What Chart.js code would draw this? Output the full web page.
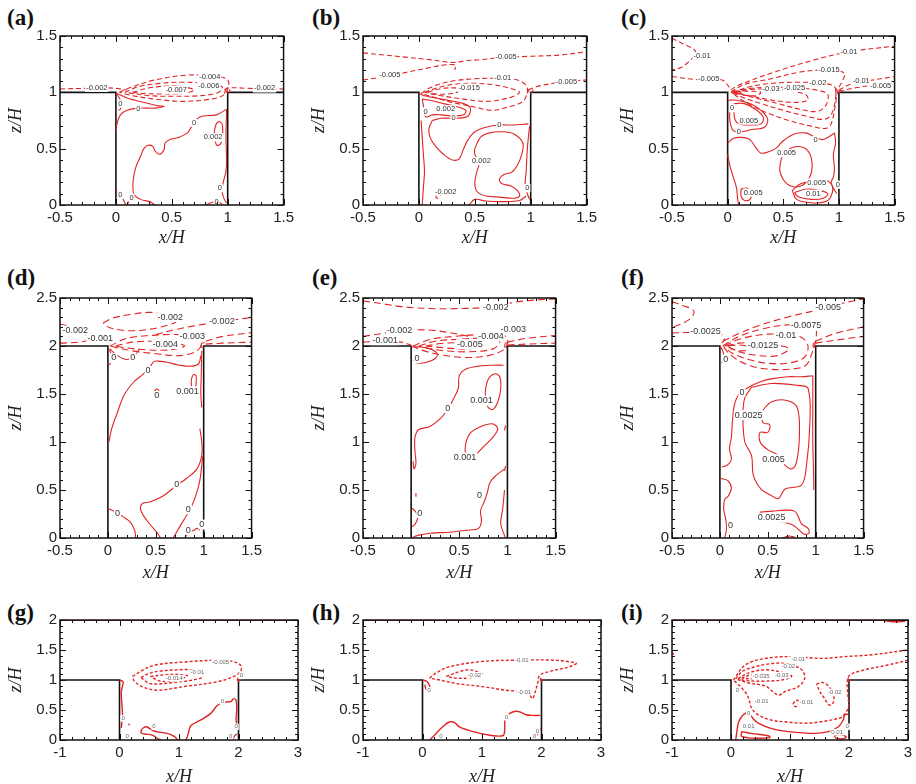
<!DOCTYPE html>
<html lang="en">
<head>
<meta charset="UTF-8">
<script src="https://cdn.jsdelivr.net/npm/chart.js@4.4.1/dist/chart.umd.min.js"></script>
<title>Contours</title>
<style>
  html, body { margin: 0; padding: 0; background: #fff; overflow: hidden; }
  body { width: 916px; height: 784px; position: relative; }
  canvas { position: absolute; }
  .tag { position: absolute; font: bold 23px "Liberation Serif", "Times New Roman", serif; color: #111; line-height: 1; }
</style>
</head>
<body>
<div class="tag" style="left:7px;top:6px">(a)</div>
<div class="tag" style="left:312px;top:6px">(b)</div>
<div class="tag" style="left:621px;top:6px">(c)</div>
<div class="tag" style="left:7px;top:266px">(d)</div>
<div class="tag" style="left:312px;top:266px">(e)</div>
<div class="tag" style="left:621px;top:266px">(f)</div>
<div class="tag" style="left:7px;top:601px">(g)</div>
<div class="tag" style="left:312px;top:601px">(h)</div>
<div class="tag" style="left:621px;top:601px">(i)</div>
<script>
// cavity outlines
const wallsShort = [[[-0.5,1],[0,1],[0,0]], [[1,0],[1,1],[1.5,1]]];
const wallsTall  = [[[-0.5,2],[0,2],[0,0]], [[1,0],[1,2],[1.5,2]]];
const wallsWide  = [[[-1,1],[0,1],[0,0]], [[2,0],[2,1],[3,1]]];

// contours: [level, [[x,z], ...]]
const contA = [
  [-0.002, [[-0.5,1.03],[-0.3,1.035],[-0.1,1.04],[0.0,1.035],[0.1,1.02]]],
  [-0.002, [[0.97,1.02],[1.0,1.04],[1.2,1.035],[1.5,1.03]]],
  [-0.004, [[0.03,1.0],[0.15,1.05],[0.35,1.11],[0.6,1.15],[0.85,1.15],[0.99,1.12],[1.01,1.07],[0.97,0.98],[0.85,0.94],[0.6,0.92],[0.35,0.94],[0.15,0.97],[0.03,1.0]]],
  [-0.006, [[0.08,1.0],[0.2,1.05],[0.4,1.08],[0.6,1.09],[0.8,1.08],[0.95,1.05],[0.92,1.0],[0.75,0.97],[0.5,0.965],[0.3,0.97],[0.15,0.99],[0.08,1.0]]],
  [-0.007, [[0.15,1.0],[0.3,1.04],[0.45,1.055],[0.6,1.05],[0.7,1.02],[0.6,0.99],[0.4,0.985],[0.25,0.99],[0.15,1.0]]],
  [-0.01, [[0.97,0.99],[0.99,1.03],[1.02,1.02],[1.0,0.99],[0.97,0.99]]],
  [0, [[0.005,0.99],[0.03,0.95],[0.05,0.9],[0.04,0.85],[0.02,0.84]]],
  [0, [[0.01,0.99],[0.1,0.95],[0.25,0.91],[0.38,0.88],[0.43,0.875],[0.35,0.86],[0.2,0.86],[0.1,0.84],[0.04,0.8],[0.01,0.72],[0.0,0.65]]],
  [0, [[0.99,0.85],[0.9,0.8],[0.78,0.79],[0.72,0.76],[0.68,0.7],[0.64,0.64],[0.56,0.6],[0.48,0.58],[0.44,0.55],[0.43,0.49],[0.39,0.45],[0.35,0.48],[0.33,0.52],[0.29,0.53],[0.25,0.5],[0.22,0.43],[0.18,0.34],[0.155,0.22],[0.16,0.1],[0.22,0.05],[0.3,0.03],[0.35,0.0]]],
  [0.002, [[0.9,0.53],[0.88,0.6],[0.89,0.7],[0.92,0.74],[0.95,0.72],[0.955,0.62],[0.94,0.55],[0.92,0.53],[0.9,0.53]]],
  [0, [[0.99,0.85],[0.985,0.6],[0.99,0.4],[0.985,0.3],[0.96,0.2],[0.95,0.12],[0.97,0.05],[0.99,0.02]]],
  [0, [[0.8,0.0],[0.85,0.02],[0.9,0.03],[0.95,0.01]]],
  [0, [[0.0,0.13],[0.03,0.1],[0.06,0.06],[0.08,0.02],[0.09,0.0]]],
  [0, [[0.1,0.0],[0.13,0.05],[0.17,0.07]]]
];
const labA = [['-0.002',-0.17,1.04],['-0.004',0.84,1.14],['-0.006',0.83,1.06],['-0.007',0.54,1.02],['-0.002',1.33,1.035],
  ['0',0.04,0.9],['0',0.2,0.85],['0',0.7,0.73],['0.002',0.87,0.6],['0',0.93,0.15],['0',0.9,0.03],['0',0.04,0.09],['0',0.14,0.065]];

const contB = [
  [-0.005, [[-0.5,1.35],[-0.3,1.33],[-0.1,1.31],[0.1,1.29],[0.3,1.265],[0.42,1.28],[0.55,1.29],[0.75,1.31],[1.0,1.32],[1.25,1.33],[1.5,1.36]]],
  [-0.005, [[-0.5,1.11],[-0.3,1.14],[-0.1,1.18],[0.1,1.22],[0.25,1.245],[0.33,1.24],[0.32,1.2]]],
  [-0.005, [[0.98,1.02],[1.05,1.05],[1.2,1.08],[1.35,1.1],[1.5,1.11]]],
  [-0.01, [[0.02,0.99],[0.12,1.05],[0.3,1.1],[0.5,1.12],[0.7,1.125],[0.88,1.11],[0.96,1.06],[0.97,1.0],[0.93,0.92],[0.8,0.87],[0.65,0.84],[0.5,0.87],[0.3,0.91],[0.12,0.96],[0.02,0.99]]],
  [-0.015, [[0.05,1.0],[0.2,1.05],[0.35,1.075],[0.5,1.08],[0.65,1.07],[0.8,1.04],[0.9,1.0],[0.8,0.95],[0.6,0.92],[0.4,0.94],[0.2,0.97],[0.05,1.0]]],
  [-0.02, [[0.08,1.0],[0.18,1.03],[0.3,1.04],[0.4,1.03],[0.3,0.99],[0.15,0.985],[0.08,1.0]]],
  [-0.03, [[0.97,0.99],[0.99,1.03],[1.02,1.02],[1.0,0.99],[0.97,0.99]]],
  [0.002, [[0.03,0.94],[0.1,0.93],[0.22,0.9],[0.35,0.87],[0.42,0.84],[0.4,0.8],[0.3,0.79],[0.2,0.8],[0.12,0.8],[0.07,0.78],[0.05,0.8],[0.04,0.88],[0.03,0.94]]],
  [0, [[0.0,0.99],[0.05,0.97],[0.2,0.94],[0.4,0.9],[0.46,0.86],[0.44,0.79],[0.35,0.77],[0.2,0.77],[0.12,0.75]]],
  [0, [[0.98,0.72],[0.85,0.71],[0.72,0.71],[0.6,0.69],[0.5,0.65],[0.44,0.58],[0.4,0.5],[0.36,0.41],[0.3,0.4],[0.22,0.45],[0.15,0.52],[0.1,0.6],[0.09,0.68],[0.12,0.75]]],
  [0, [[0.02,0.75],[0.03,0.6],[0.04,0.45],[0.05,0.3],[0.04,0.15],[0.03,0.0]]],
  [0.002, [[0.5,0.5],[0.55,0.6],[0.63,0.64],[0.75,0.65],[0.85,0.63],[0.93,0.55],[0.92,0.45],[0.88,0.35],[0.83,0.29],[0.76,0.27],[0.72,0.23],[0.74,0.19],[0.82,0.17],[0.88,0.13],[0.9,0.08],[0.85,0.06],[0.72,0.07],[0.6,0.08],[0.52,0.12],[0.5,0.2],[0.52,0.3],[0.54,0.38],[0.5,0.45],[0.5,0.5]]],
  [0, [[0.45,0.0],[0.5,0.05],[0.6,0.035],[0.75,0.03],[0.9,0.04],[0.96,0.08]]],
  [-0.002, [[0.15,0.07],[0.17,0.11],[0.2,0.12],[0.19,0.08],[0.16,0.06],[0.15,0.07]]],
  [0, [[0.99,0.7],[0.97,0.5],[0.96,0.3],[0.95,0.18],[0.97,0.1],[0.99,0.05]]]
];
const labB = [['-0.005',0.78,1.317],['-0.005',-0.26,1.15],['-0.01',0.75,1.13],['-0.015',0.45,1.04],['-0.005',1.32,1.095],
  ['0',0.06,0.83],['0.002',0.24,0.85],['0',0.31,0.77],['0',0.72,0.71],['0.002',0.56,0.39],['-0.002',0.24,0.12],['0',0.97,0.15]];

const contC = [
  [-0.01, [[-0.5,1.48],[-0.4,1.43],[-0.3,1.38],[-0.29,1.34],[-0.34,1.28],[-0.42,1.22],[-0.5,1.2]]],
  [-0.005, [[-0.5,1.14],[-0.35,1.12],[-0.2,1.11],[-0.05,1.11],[0.02,1.04]]],
  [-0.005, [[1.0,1.01],[1.15,1.04],[1.3,1.06],[1.5,1.07]]],
  [-0.01, [[1.0,1.02],[1.1,1.07],[1.25,1.1],[1.5,1.14]]],
  [-0.01, [[0.03,1.02],[0.09,1.06],[0.39,1.17],[0.75,1.28],[1.09,1.36],[1.5,1.41]]],
  [-0.015, [[0.03,1.0],[0.15,1.07],[0.39,1.12],[0.65,1.18],[0.91,1.2],[1.05,1.17],[1.03,1.1],[0.99,1.02],[0.97,0.9],[0.93,0.72],[0.88,0.68],[0.75,0.7],[0.55,0.75],[0.35,0.82],[0.18,0.9],[0.03,1.0]]],
  [-0.02, [[0.04,1.0],[0.2,1.05],[0.4,1.08],[0.65,1.09],[0.85,1.08],[0.96,1.05],[0.97,0.95],[0.93,0.8],[0.86,0.76],[0.7,0.79],[0.5,0.84],[0.3,0.9],[0.15,0.95],[0.04,1.0]]],
  [-0.025, [[0.05,1.0],[0.2,1.035],[0.4,1.045],[0.6,1.04],[0.8,1.02],[0.9,0.98],[0.88,0.88],[0.8,0.83],[0.65,0.85],[0.45,0.9],[0.25,0.95],[0.05,1.0]]],
  [-0.03, [[0.06,1.0],[0.2,1.025],[0.39,1.03],[0.5,1.02],[0.7,0.98],[0.72,0.93],[0.6,0.91],[0.4,0.93],[0.2,0.97],[0.06,1.0]]],
  [-0.035, [[0.07,1.0],[0.15,1.01],[0.3,1.0],[0.25,0.97],[0.12,0.98],[0.07,1.0]]],
  [-0.04, [[0.03,1.0],[0.07,1.02],[0.12,1.0],[0.07,0.985],[0.03,1.0]]],
  [-0.04, [[0.97,0.99],[0.98,1.03],[1.01,1.03],[1.0,0.99],[0.97,0.99]]],
  [0, [[0.0,0.93],[0.08,0.93],[0.2,0.9],[0.3,0.84],[0.36,0.76],[0.33,0.69],[0.22,0.67],[0.12,0.65],[0.05,0.66],[0.02,0.75],[0.02,0.85]]],
  [0.005, [[0.06,0.9],[0.15,0.9],[0.25,0.85],[0.32,0.78],[0.3,0.72],[0.2,0.71],[0.1,0.72],[0.06,0.78],[0.06,0.9]]],
  [0, [[0.0,0.55],[0.05,0.59],[0.12,0.6],[0.2,0.58],[0.26,0.5],[0.3,0.46],[0.36,0.47],[0.43,0.5],[0.5,0.57],[0.6,0.63],[0.7,0.64],[0.77,0.61],[0.85,0.58],[0.9,0.6],[0.96,0.64]]],
  [0, [[0.96,0.64],[0.97,0.55],[0.95,0.45],[0.96,0.32],[0.95,0.25],[0.93,0.2],[0.95,0.15],[0.98,0.1]]],
  [0.005, [[0.5,0.45],[0.58,0.51],[0.68,0.51],[0.74,0.45],[0.76,0.35],[0.74,0.25],[0.68,0.18],[0.6,0.16],[0.52,0.2],[0.47,0.3],[0.48,0.4],[0.5,0.45]]],
  [0.005, [[0.58,0.13],[0.66,0.19],[0.78,0.21],[0.88,0.22],[0.94,0.17],[0.93,0.08],[0.88,0.03],[0.75,0.02],[0.62,0.05],[0.58,0.13]]],
  [0.01, [[0.6,0.11],[0.7,0.14],[0.82,0.13],[0.9,0.1],[0.86,0.06],[0.75,0.05],[0.64,0.07],[0.6,0.11]]],
  [0.005, [[0.12,0.14],[0.17,0.15],[0.21,0.11],[0.2,0.05],[0.15,0.04],[0.12,0.08],[0.12,0.14]]],
  [0, [[0.0,0.45],[0.02,0.35],[0.05,0.25],[0.08,0.15],[0.09,0.05],[0.1,0.0]]]
];
const labC = [['-0.01',-0.23,1.32],['-0.005',-0.17,1.115],['-0.01',1.09,1.36],['-0.015',0.91,1.2],['-0.02',0.81,1.085],
  ['-0.025',0.6,1.04],['-0.03',0.39,1.03],['-0.01',1.2,1.1],['-0.005',1.375,1.06],['0',0.04,0.86],['0.005',0.19,0.75],
  ['0',0.1,0.65],['0',0.79,0.58],['0.005',0.53,0.46],['0.005',0.8,0.2],['0.01',0.77,0.1],['0.005',0.23,0.11],['0',0.99,0.18]];

const contD = [
  [-0.002, [[-0.05,2.24],[0.05,2.29],[0.25,2.33],[0.45,2.35],[0.65,2.31],[0.72,2.26],[0.6,2.21],[0.4,2.17],[0.2,2.16],[0.02,2.19],[-0.05,2.24]]],
  [-0.002, [[0.5,2.12],[0.7,2.17],[0.9,2.21],[1.1,2.24],[1.3,2.27],[1.45,2.29],[1.5,2.3]]],
  [-0.002, [[-0.5,2.23],[-0.4,2.2],[-0.3,2.15],[-0.2,2.1],[-0.05,2.06],[0.02,2.02]]],
  [-0.001, [[-0.5,2.03],[-0.3,2.04],[-0.1,2.07],[0.0,2.05],[0.03,2.01]]],
  [-0.003, [[1.02,2.05],[1.2,2.1],[1.5,2.14]]],
  [-0.002, [[1.02,2.02],[1.2,2.03],[1.5,2.04]]],
  [-0.003, [[0.02,2.0],[0.2,2.08],[0.45,2.11],[0.7,2.12],[0.9,2.1],[0.98,2.04],[0.93,1.95],[0.75,1.9],[0.5,1.92],[0.25,1.95],[0.02,2.0]]],
  [-0.004, [[0.08,2.0],[0.25,2.04],[0.45,2.05],[0.65,2.04],[0.8,2.0],[0.65,1.96],[0.4,1.96],[0.2,1.98],[0.08,2.0]]],
  [-0.006, [[0.97,1.99],[0.98,2.03],[1.01,2.03],[1.0,1.99],[0.97,1.99]]],
  [0, [[0.01,1.97],[0.04,1.9],[0.03,1.83],[0.01,1.8]]],
  [0, [[0.02,1.97],[0.1,1.9],[0.2,1.86],[0.28,1.9],[0.33,1.97]]],
  [0, [[0.01,1.0],[0.04,1.14],[0.1,1.31],[0.17,1.49],[0.27,1.625],[0.36,1.7],[0.44,1.78],[0.48,1.84],[0.55,1.84],[0.62,1.83],[0.75,1.8],[0.88,1.79],[0.95,1.82],[0.97,1.9]]],
  [0.001, [[0.88,1.55],[0.87,1.63],[0.89,1.7],[0.92,1.69],[0.92,1.6],[0.91,1.55],[0.88,1.55]]],
  [0, [[0.98,1.95],[0.975,1.7],[0.97,1.5],[0.98,1.36]]],
  [0, [[0.48,1.5],[0.5,1.55],[0.53,1.54],[0.52,1.5],[0.49,1.49],[0.48,1.5]]],
  [0, [[0.96,1.14],[0.98,1.0],[0.98,0.86],[0.93,0.72],[0.82,0.62],[0.72,0.55],[0.58,0.44],[0.44,0.375],[0.36,0.36],[0.34,0.3],[0.38,0.22],[0.45,0.13],[0.51,0.06],[0.55,0.0]]],
  [0, [[0.99,0.85],[0.96,0.6],[0.92,0.45],[0.86,0.3],[0.8,0.2],[0.74,0.1],[0.68,0.0]]],
  [0, [[0.01,0.305],[0.08,0.27],[0.16,0.22],[0.23,0.17],[0.28,0.08],[0.29,0.0]]],
  [0, [[0.8,0.0],[0.85,0.06],[0.9,0.08],[0.93,0.1],[0.96,0.08]]]
];
const labD = [['-0.002',0.65,2.3],['-0.002',1.19,2.26],['-0.002',-0.34,2.16],['-0.001',-0.08,2.08],['-0.003',0.88,2.1],['-0.004',0.6,2.02],
  ['0',0.06,1.875],['0',0.26,1.885],['0',0.42,1.74],['0.001',0.83,1.53],['0',0.51,1.48],['0',0.72,0.56],['0',0.84,0.3],['0',0.1,0.26],['0',0.84,0.08],['0',0.98,0.14]];

const contE = [
  [-0.002, [[-0.5,2.47],[-0.3,2.44],[-0.1,2.41],[0.2,2.39],[0.5,2.39],[0.75,2.4],[0.95,2.43],[1.1,2.46],[1.3,2.48],[1.5,2.49]]],
  [-0.002, [[-0.5,2.1],[-0.3,2.13],[-0.12,2.16],[0.05,2.17],[0.25,2.16],[0.45,2.13],[0.6,2.1]]],
  [-0.001, [[-0.5,2.04],[-0.3,2.05],[-0.1,2.04],[0.0,2.01]]],
  [-0.003, [[1.0,2.04],[1.2,2.08],[1.5,2.11]]],
  [-0.002, [[1.0,2.01],[1.2,2.02],[1.5,2.03]]],
  [-0.003, [[0.02,2.0],[0.2,2.07],[0.45,2.1],[0.7,2.12],[0.9,2.13],[1.0,2.08],[0.97,1.97],[0.8,1.9],[0.55,1.88],[0.3,1.91],[0.1,1.96],[0.02,2.0]]],
  [-0.004, [[0.08,2.0],[0.25,2.05],[0.5,2.07],[0.75,2.08],[0.92,2.05],[0.85,1.97],[0.6,1.94],[0.35,1.95],[0.15,1.98],[0.08,2.0]]],
  [-0.005, [[0.15,2.0],[0.35,2.03],[0.6,2.03],[0.75,2.0],[0.6,1.97],[0.35,1.98],[0.15,2.0]]],
  [-0.008, [[0.97,1.99],[0.98,2.03],[1.01,2.03],[1.0,1.99],[0.97,1.99]]],
  [0, [[0.0,1.99],[0.1,1.99],[0.2,1.97],[0.27,1.92],[0.25,1.87],[0.16,1.83],[0.06,1.82],[0.02,1.85]]],
  [0, [[0.96,1.8],[0.85,1.8],[0.7,1.79],[0.57,1.76],[0.5,1.69],[0.49,1.56],[0.44,1.45],[0.38,1.34],[0.3,1.24],[0.19,1.16],[0.08,1.13],[0.04,1.05],[0.04,0.9],[0.05,0.78],[0.03,0.72],[0.02,0.8]]],
  [0.001, [[0.78,1.43],[0.77,1.52],[0.8,1.65],[0.87,1.71],[0.92,1.68],[0.93,1.55],[0.9,1.42],[0.85,1.34],[0.8,1.36],[0.78,1.43]]],
  [0.001, [[0.56,0.9],[0.57,1.0],[0.62,1.1],[0.72,1.16],[0.84,1.19],[0.9,1.14],[0.85,1.05],[0.75,0.95],[0.66,0.86],[0.6,0.85],[0.56,0.9]]],
  [0, [[0.97,0.72],[0.88,0.65],[0.82,0.58],[0.79,0.47],[0.76,0.38],[0.72,0.28],[0.73,0.18],[0.7,0.1],[0.57,0.08],[0.4,0.06],[0.2,0.05],[0.08,0.03],[0.02,0.01]]],
  [0, [[0.97,0.5],[0.95,0.3],[0.93,0.15],[0.96,0.05],[0.98,0.0]]],
  [0, [[0.01,0.31],[0.05,0.27],[0.07,0.22],[0.04,0.14],[0.01,0.12]]],
  [0, [[0.05,0.43],[0.05,0.47]]],
  [0, [[0.97,1.12],[0.98,1.17]]],
  [0, [[0.97,0.7],[0.98,0.75]]]
];
const labE = [['-0.002',0.88,2.4],['-0.002',-0.12,2.16],['-0.001',-0.27,2.06],['-0.003',1.06,2.17],['-0.004',0.83,2.1],['-0.005',0.61,2.02],
  ['0',0.06,1.87],['0',0.38,1.35],['0.001',0.73,1.43],['0.001',0.56,0.84],['0',0.71,0.44],['0',0.09,0.26]];

const contF = [
  [-0.005, [[-0.5,2.46],[-0.38,2.42],[-0.27,2.36],[-0.33,2.27],[-0.5,2.19]]],
  [-0.0025, [[-0.5,2.135],[-0.35,2.14],[-0.15,2.15],[0.0,2.13],[0.05,2.08],[0.02,2.03]]],
  [-0.005, [[0.03,2.05],[0.2,2.13],[0.4,2.21],[0.7,2.3],[1.13,2.4],[1.3,2.45],[1.5,2.49]]],
  [-0.0025, [[1.0,2.03],[1.2,2.06],[1.5,2.1]]],
  [-0.005, [[1.0,2.05],[1.2,2.13],[1.5,2.2]]],
  [-0.0075, [[0.03,2.0],[0.2,2.1],[0.45,2.18],[0.7,2.22],[0.9,2.22],[1.0,2.18],[1.0,2.06],[0.97,1.95],[0.9,1.8],[0.75,1.76],[0.5,1.76],[0.3,1.8],[0.12,1.9],[0.03,2.0]]],
  [-0.01, [[0.05,2.0],[0.2,2.07],[0.45,2.12],[0.69,2.12],[0.85,2.09],[0.92,2.0],[0.88,1.88],[0.7,1.82],[0.5,1.82],[0.3,1.86],[0.12,1.93],[0.05,2.0]]],
  [-0.0125, [[0.07,2.0],[0.2,2.03],[0.45,2.03],[0.6,2.01],[0.72,1.97],[0.6,1.9],[0.4,1.9],[0.2,1.94],[0.07,2.0]]],
  [-0.015, [[0.09,2.0],[0.2,2.01],[0.35,1.98],[0.25,1.95],[0.12,1.97],[0.09,2.0]]],
  [-0.02, [[0.97,1.99],[0.98,2.03],[1.01,2.03],[1.0,1.99],[0.97,1.99]]],
  [0, [[0.0,2.0],[0.03,1.95],[0.04,1.88],[0.02,1.82]]],
  [0, [[0.97,1.69],[0.85,1.68],[0.71,1.68],[0.55,1.66],[0.43,1.63],[0.3,1.57],[0.2,1.5],[0.15,1.38],[0.13,1.2],[0.12,1.05],[0.1,0.93],[0.12,0.82],[0.08,0.76],[0.02,0.74]]],
  [0, [[0.97,1.69],[0.97,1.4],[0.97,1.0],[0.98,0.6],[0.98,0.5]]],
  [0.0025, [[0.33,1.57],[0.54,1.61],[0.81,1.59],[0.92,1.56],[0.94,1.21],[0.9,0.72],[0.85,0.55],[0.68,0.51],[0.61,0.41],[0.54,0.44],[0.43,0.51],[0.35,0.65],[0.33,0.86],[0.26,1.0],[0.24,1.28],[0.26,1.46],[0.33,1.57]]],
  [0.005, [[0.43,1.31],[0.54,1.42],[0.71,1.43],[0.81,1.35],[0.83,1.07],[0.8,0.79],[0.75,0.72],[0.68,0.76],[0.61,0.86],[0.5,0.92],[0.42,1.0],[0.42,1.1],[0.5,1.1],[0.52,1.18],[0.45,1.2],[0.43,1.31]]],
  [0, [[0.01,0.62],[0.08,0.6],[0.12,0.52],[0.09,0.44],[0.05,0.4],[0.04,0.3],[0.06,0.2],[0.07,0.1],[0.05,0.0]]],
  [0.0025, [[0.42,0.27],[0.55,0.28],[0.68,0.29],[0.78,0.28],[0.82,0.22],[0.85,0.15],[0.92,0.1],[0.93,0.05],[0.88,0.04],[0.82,0.09],[0.75,0.14],[0.62,0.17],[0.5,0.19],[0.43,0.22],[0.42,0.27]]],
  [0, [[0.65,0.0],[0.72,0.02],[0.78,0.01]]]
];
const labF = [['-0.005',1.13,2.4],['-0.0025',-0.15,2.15],['-0.0075',0.9,2.21],['-0.01',0.69,2.11],['-0.0125',0.45,2.0],
  ['0',0.06,1.86],['0',0.23,1.52],['0.0025',0.3,1.28],['0.005',0.56,0.82],['0.0025',0.54,0.21],['0',0.11,0.125]];

const contG = [
  [0, [[-1,1.993],[3,1.993]]],
  [-0.005, [[0.22,1.06],[0.4,1.17],[0.6,1.25],[1.08,1.3],[1.64,1.33],[1.9,1.31],[2.03,1.25],[2.04,1.15],[1.92,1.06],[1.64,0.97],[1.08,0.89],[0.64,0.83],[0.4,0.88],[0.25,0.98],[0.22,1.06]]],
  [-0.01, [[0.36,1.04],[0.5,1.11],[0.69,1.15],[1.0,1.17],[1.2,1.17],[1.42,1.11],[1.36,1.03],[0.92,0.96],[0.52,0.94],[0.36,1.04]]],
  [-0.014, [[0.52,1.06],[0.8,1.09],[1.0,1.09],[1.14,1.07],[0.97,1.0],[0.69,0.98],[0.52,1.06]]],
  [0, [[0.0,1.0],[0.06,0.97],[0.05,0.9],[0.03,0.8],[0.04,0.6],[0.05,0.42],[0.04,0.3],[0.03,0.2]]],
  [0, [[0.38,0.19],[0.45,0.22],[0.58,0.15],[0.8,0.11],[0.92,0.06],[0.98,0.0]]],
  [0, [[0.38,0.19],[0.36,0.12],[0.42,0.1],[0.55,0.08],[0.65,0.02],[0.7,0.0]]],
  [0, [[1.12,0.0],[1.16,0.12],[1.2,0.24],[1.36,0.33],[1.53,0.44],[1.64,0.57],[1.76,0.63],[1.87,0.64],[1.92,0.69],[1.96,0.66],[1.97,0.5],[1.96,0.35],[1.98,0.2]]],
  [0, [[1.9,0.0],[1.93,0.06],[1.97,0.1]]],
  [0, [[0.15,0.25],[0.17,0.27]]],
  [-0.02, [[1.98,0.99],[1.99,1.03],[2.02,1.02],[2.0,0.98],[1.98,0.99]]]
];
const labG = [['-0.005',1.7,1.3],['-0.01',1.31,1.12],['-0.014',0.92,1.03],['0',2.05,1.07],['0',0.06,0.36],['0',0.58,0.22],
  ['0',1.73,0.64],['0',0.13,0.06],['0',1.87,0.06],['0',1.96,0.22]];

const contH = [
  [0, [[-1,1.993],[3,1.993]]],
  [-0.01, [[0.12,1.03],[0.25,1.13],[0.45,1.22],[1.01,1.31],[1.57,1.33],[2.19,1.33],[2.58,1.28],[2.47,1.22],[2.13,1.14],[1.97,1.08],[1.94,0.97],[1.88,0.75],[1.85,0.69],[1.8,0.75],[1.71,0.8],[1.4,0.83],[1.01,0.89],[0.57,0.94],[0.29,1.0],[0.12,1.03]]],
  [-0.02, [[0.4,1.06],[0.62,1.14],[0.79,1.17],[0.95,1.13],[1.01,1.09],[0.85,1.04],[0.57,1.03],[0.4,1.06]]],
  [-0.03, [[1.98,0.99],[1.99,1.03],[2.02,1.02],[2.0,0.98],[1.98,0.99]]],
  [0, [[0.01,1.0],[0.08,0.97],[0.12,0.9],[0.11,0.83],[0.06,0.85],[0.04,0.92]]],
  [0, [[0.12,0.0],[0.23,0.11],[0.34,0.22],[0.45,0.3],[0.54,0.29],[0.62,0.22],[0.85,0.14],[1.13,0.08],[1.35,0.07],[1.38,0.14],[1.39,0.36],[1.46,0.44],[1.57,0.48],[1.66,0.46],[1.74,0.42],[1.85,0.41],[1.98,0.41]]],
  [0, [[1.85,0.0],[1.9,0.06],[1.95,0.12],[1.98,0.2]]]
];
const labH = [['-0.01',1.67,1.32],['-0.02',0.87,1.08],['-0.01',1.71,0.8],['0',0.11,0.83],['0',1.41,0.38],['0',0.31,0.06],['0',1.93,0.15],['0',1.88,0.06]];

const contI = [
  [0, [[-1,1.993],[3,1.993]]],
  [0, [[2.6,1.99],[2.75,1.97],[2.95,1.98]]],
  [-0.005, [[-1,1.46],[-0.97,1.42],[-1,1.38]]],
  [-0.01, [[0.04,1.0],[0.24,1.25],[0.58,1.36],[1.03,1.39],[1.54,1.36],[1.93,1.39],[2.38,1.42],[3.0,1.5]]],
  [-0.01, [[3.0,1.33],[2.66,1.25],[2.27,1.17],[2.01,1.08],[1.97,0.95],[1.98,0.75],[1.99,0.55],[1.9,0.4],[1.82,0.36],[1.5,0.3],[1.25,0.28],[0.95,0.3],[0.69,0.33],[0.46,0.42],[0.35,0.53],[0.3,0.69],[0.24,0.8],[0.13,0.92],[0.04,1.0]]],
  [-0.02, [[0.08,1.02],[0.2,1.15],[0.41,1.22],[0.65,1.27],[0.86,1.28],[1.05,1.24],[1.2,1.17],[1.25,1.03],[1.14,0.89],[0.92,0.81],[0.8,0.75],[0.58,0.9],[0.3,0.95],[0.08,1.02]]],
  [-0.03, [[0.12,1.02],[0.3,1.12],[0.58,1.17],[0.85,1.13],[1.03,1.06],[0.86,1.0],[0.52,0.98],[0.25,0.99],[0.12,1.02]]],
  [-0.035, [[0.18,1.03],[0.35,1.09],[0.55,1.1],[0.6,1.05],[0.4,1.02],[0.18,1.03]]],
  [-0.02, [[1.45,0.93],[1.55,0.96],[1.65,0.9],[1.73,0.78],[1.74,0.64],[1.67,0.58],[1.58,0.7],[1.5,0.82],[1.45,0.93]]],
  [-0.01, [[1.05,0.6],[1.1,0.66],[1.16,0.64],[1.15,0.57],[1.08,0.56],[1.05,0.6]]],
  [-0.04, [[1.98,0.99],[1.99,1.03],[2.02,1.02],[2.0,0.98],[1.98,0.99]]],
  [0, [[0.08,0.0],[0.1,0.14],[0.13,0.3],[0.21,0.42],[0.3,0.45],[0.38,0.35],[0.46,0.28],[0.69,0.19],[0.97,0.14],[1.42,0.11],[1.65,0.14],[1.82,0.22],[1.9,0.33],[1.93,0.42],[1.99,0.43]]],
  [0.01, [[0.18,0.14],[0.35,0.11],[0.63,0.07],[0.66,0.04],[0.41,0.03],[0.18,0.06],[0.18,0.14]]],
  [0.01, [[1.75,0.08],[1.85,0.09],[1.95,0.05],[1.9,0.02],[1.78,0.03],[1.75,0.08]]]
];
const labI = [['-0.01',1.14,1.35],['-0.02',0.97,1.22],['-0.03',0.86,1.08],['-0.035',0.51,1.06],['-0.02',1.76,0.8],['-0.01',1.28,0.62],
  ['-0.01',0.52,0.64],['0',0.11,0.83],['0',0.3,0.45],['0.01',0.3,0.22],['0.01',1.8,0.13],['0',1.97,0.22]];

const RED = '#e02424';
const SANS = '"Liberation Sans", Arial, Helvetica, sans-serif';
const SERIF = '"Liberation Serif", "Times New Roman", serif';

function panel(box, padB, xr, yr, xStep, xMinor, contours, labels, walls, st) {
  const [L, T, W, H] = box;
  const cv = document.createElement('canvas');
  const padL = 60, padT = 12, padR = 14;
  cv.width = padL + W + padR; cv.height = padT + H + padB;
  cv.style.left = (L - padL) + 'px'; cv.style.top = (T - padT) + 'px';
  document.body.appendChild(cv);

  const datasets = contours.map(([lv, pts]) => ({
    data: pts.map(p => ({x: p[0], y: p[1]})),
    showLine: true, borderColor: RED, borderWidth: st.lw,
    borderDash: lv < 0 ? st.dash : [], tension: 0.35, pointRadius: 0
  }));
  walls.forEach(w => datasets.push({
    data: w.map(p => ({x: p[0], y: p[1]})),
    showLine: true, borderColor: '#111', borderWidth: 1.6, tension: 0, pointRadius: 0
  }));

  const frame = {
    id: 'frame',
    afterDatasetsDraw(chart) {
      const {ctx, chartArea: a, scales: {x, y}} = chart;
      ctx.save();
      ctx.font = st.fs + 'px ' + SANS;
      ctx.textAlign = 'center'; ctx.textBaseline = 'middle';
      for (const [t, lx, ly] of labels) {
        const px = x.getPixelForValue(lx), py = y.getPixelForValue(ly);
        const w = ctx.measureText(t).width;
        ctx.fillStyle = '#fff';
        ctx.fillRect(px - w / 2 - 1, py - st.fs * 0.55, w + 2, st.fs * 1.1);
        ctx.fillStyle = st.lc;
        ctx.fillText(t, px, py);
      }
      ctx.strokeStyle = '#111'; ctx.lineWidth = 1;
      ctx.beginPath();
      const nx = Math.round((x.max - x.min) / xMinor);
      for (let i = 0; i <= nx; i++) {
        const px = Math.round(x.getPixelForValue(x.min + i * xMinor)) + 0.5;
        const len = i % 5 === 0 ? 6 : 3;
        ctx.moveTo(px, a.bottom); ctx.lineTo(px, a.bottom - len);
        ctx.moveTo(px, a.top); ctx.lineTo(px, a.top + len);
      }
      const ny = Math.round((y.max - y.min) / 0.1);
      for (let i = 0; i <= ny; i++) {
        const py = Math.round(y.getPixelForValue(y.min + i * 0.1)) + 0.5;
        const len = i % 5 === 0 ? 6 : 3;
        ctx.moveTo(a.left, py); ctx.lineTo(a.left + len, py);
        ctx.moveTo(a.right, py); ctx.lineTo(a.right - len, py);
      }
      ctx.stroke();
      ctx.lineWidth = 1.5;
      ctx.strokeRect(a.left, a.top, a.width, a.height);
      ctx.restore();
    }
  };

  const fmt = v => String(Math.round(v * 100) / 100);

  new Chart(cv, {
    type: 'scatter',
    data: {datasets},
    options: {
      responsive: false, animation: false, devicePixelRatio: 1,
      layout: {padding: {left: 0, top: padT, right: padR, bottom: 0}},
      plugins: {legend: {display: false}, tooltip: {enabled: false}},
      scales: {
        x: {
          type: 'linear', min: xr[0], max: xr[1],
          afterFit: s => { s.height = padB; },
          grid: {display: false, drawTicks: false}, border: {display: false},
          ticks: {stepSize: xStep, autoSkip: false, maxRotation: 0, padding: 4, color: '#222', font: {family: SANS, size: 15}, callback: fmt},
          title: {display: true, text: 'x/H', color: '#222', padding: {top: 0, bottom: 2}, font: {family: SERIF, style: 'italic', size: 18}}
        },
        y: {
          type: 'linear', min: yr[0], max: yr[1],
          afterFit: s => { s.width = padL; },
          grid: {display: false, drawTicks: false}, border: {display: false},
          ticks: {stepSize: 0.5, autoSkip: false, padding: 3, color: '#222', font: {family: SANS, size: 15}, callback: fmt},
          title: {display: true, text: 'z/H', color: '#222', padding: {top: 5, bottom: 0}, font: {family: SERIF, style: 'italic', size: 18}}
        }
      }
    },
    plugins: [frame]
  });
}

const topStyle = {lw: 1.1, dash: [5, 3], fs: 7.5, lc: '#333'};
const midStyle = {lw: 1.1, dash: [7, 4], fs: 9, lc: '#333'};
const lowStyle = {lw: 1.4, dash: [3, 2], fs: 6, lc: '#666'};

panel([60, 36, 224, 169], 46, [-0.5, 1.5], [0, 1.5], 0.5, 0.1, contA, labA, wallsShort, topStyle);
panel([363, 36, 224, 169], 46, [-0.5, 1.5], [0, 1.5], 0.5, 0.1, contB, labB, wallsShort, topStyle);
panel([672, 36, 223, 169], 46, [-0.5, 1.5], [0, 1.5], 0.5, 0.1, contC, labC, wallsShort, topStyle);
panel([60, 298, 192, 240], 48, [-0.5, 1.5], [0, 2.5], 0.5, 0.1, contD, labD, wallsTall, midStyle);
panel([363, 298, 193, 240], 48, [-0.5, 1.5], [0, 2.5], 0.5, 0.1, contE, labE, wallsTall, midStyle);
panel([672, 298, 192, 240], 48, [-0.5, 1.5], [0, 2.5], 0.5, 0.1, contF, labF, wallsTall, midStyle);
panel([60, 620, 238, 120], 50, [-1, 3], [0, 2], 1, 0.2, contG, labG, wallsWide, lowStyle);
panel([363, 620, 238, 120], 50, [-1, 3], [0, 2], 1, 0.2, contH, labH, wallsWide, lowStyle);
panel([672, 620, 236, 120], 50, [-1, 3], [0, 2], 1, 0.2, contI, labI, wallsWide, lowStyle);
</script>
</body>
</html>
